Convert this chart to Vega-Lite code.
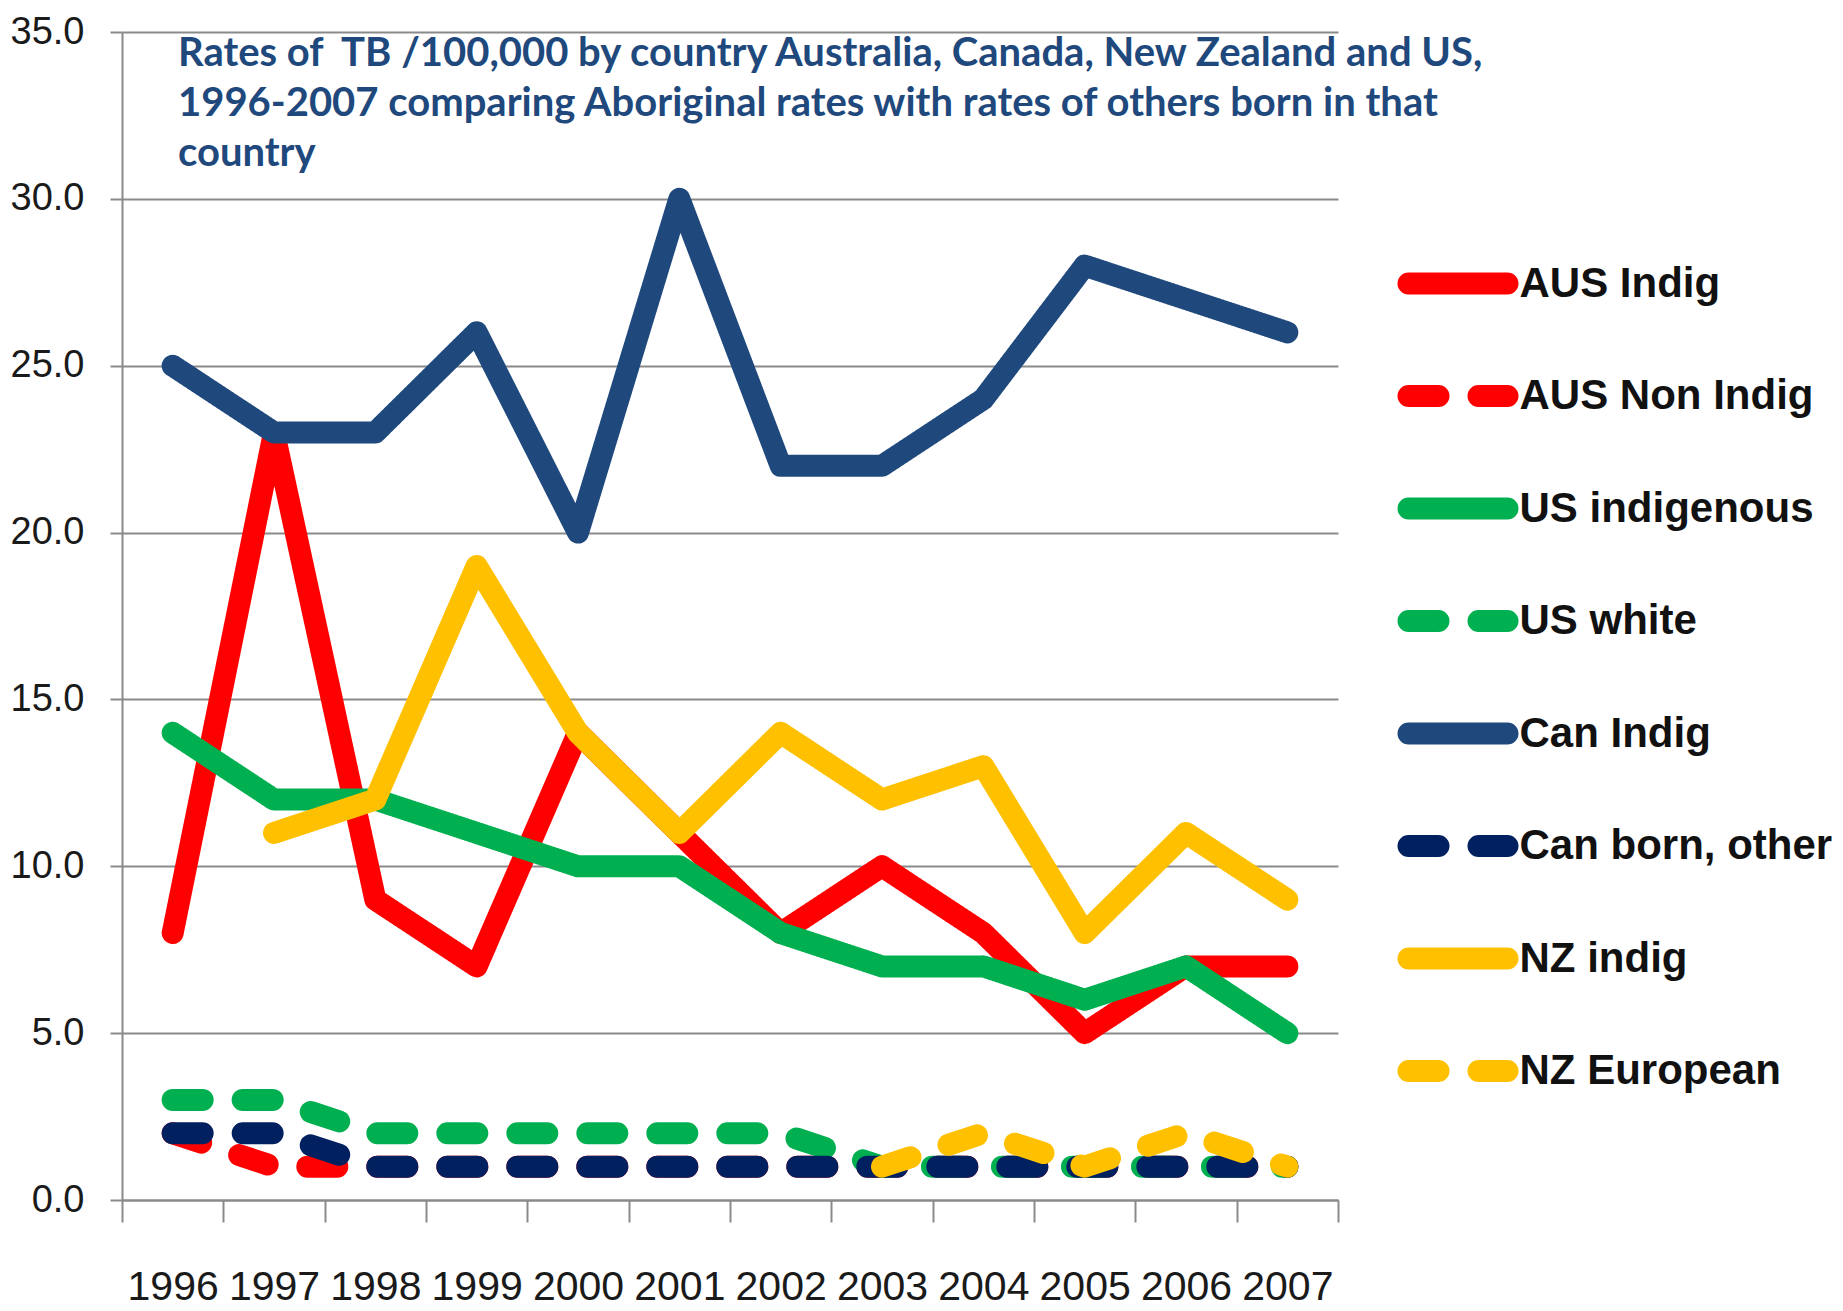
{
  "$schema": "https://vega.github.io/schema/vega-lite/v6.json",
  "width": 1216,
  "height": 1168,
  "autosize": {"type": "none"},
  "padding": {"left": 122, "top": 32, "right": 505, "bottom": 111},
  "background": "white",
  "title": {
    "text": ["Rates of\u00a0 TB /100,000 by country Australia, Canada, New Zealand and US,", "1996-2007 comparing Aboriginal rates with rates of others born in that", "country"],
    "anchor": "start",
    "frame": "group",
    "orient": "top",
    "baseline": "alphabetic",
    "offset": 0,
    "dx": 56,
    "dy": 193,
    "font": "Lato",
    "fontSize": 40,
    "fontWeight": "bold",
    "color": "#1F497D",
    "lineHeight": 50
  },
  "config": {
    "view": {"stroke": null},
    "font": "Liberation Sans, Arial, sans-serif"
  },
  "data": {
    "values": [
      {"series": "AUS Indig", "year": "1996", "rate": 8},
      {"series": "AUS Indig", "year": "1997", "rate": 23},
      {"series": "AUS Indig", "year": "1998", "rate": 9},
      {"series": "AUS Indig", "year": "1999", "rate": 7},
      {"series": "AUS Indig", "year": "2000", "rate": 14},
      {"series": "AUS Indig", "year": "2001", "rate": 11},
      {"series": "AUS Indig", "year": "2002", "rate": 8},
      {"series": "AUS Indig", "year": "2003", "rate": 10},
      {"series": "AUS Indig", "year": "2004", "rate": 8},
      {"series": "AUS Indig", "year": "2005", "rate": 5},
      {"series": "AUS Indig", "year": "2006", "rate": 7},
      {"series": "AUS Indig", "year": "2007", "rate": 7},
      {"series": "AUS Non Indig", "year": "1996", "rate": 2},
      {"series": "AUS Non Indig", "year": "1997", "rate": 1},
      {"series": "AUS Non Indig", "year": "1998", "rate": 1},
      {"series": "AUS Non Indig", "year": "1999", "rate": 1},
      {"series": "AUS Non Indig", "year": "2000", "rate": 1},
      {"series": "AUS Non Indig", "year": "2001", "rate": 1},
      {"series": "AUS Non Indig", "year": "2002", "rate": 1},
      {"series": "AUS Non Indig", "year": "2003", "rate": 1},
      {"series": "AUS Non Indig", "year": "2004", "rate": 1},
      {"series": "AUS Non Indig", "year": "2005", "rate": 1},
      {"series": "AUS Non Indig", "year": "2006", "rate": 1},
      {"series": "AUS Non Indig", "year": "2007", "rate": 1},
      {"series": "US indigenous", "year": "1996", "rate": 14},
      {"series": "US indigenous", "year": "1997", "rate": 12},
      {"series": "US indigenous", "year": "1998", "rate": 12},
      {"series": "US indigenous", "year": "1999", "rate": 11},
      {"series": "US indigenous", "year": "2000", "rate": 10},
      {"series": "US indigenous", "year": "2001", "rate": 10},
      {"series": "US indigenous", "year": "2002", "rate": 8},
      {"series": "US indigenous", "year": "2003", "rate": 7},
      {"series": "US indigenous", "year": "2004", "rate": 7},
      {"series": "US indigenous", "year": "2005", "rate": 6},
      {"series": "US indigenous", "year": "2006", "rate": 7},
      {"series": "US indigenous", "year": "2007", "rate": 5},
      {"series": "US white", "year": "1996", "rate": 3},
      {"series": "US white", "year": "1997", "rate": 3},
      {"series": "US white", "year": "1998", "rate": 2},
      {"series": "US white", "year": "1999", "rate": 2},
      {"series": "US white", "year": "2000", "rate": 2},
      {"series": "US white", "year": "2001", "rate": 2},
      {"series": "US white", "year": "2002", "rate": 2},
      {"series": "US white", "year": "2003", "rate": 1},
      {"series": "US white", "year": "2004", "rate": 1},
      {"series": "US white", "year": "2005", "rate": 1},
      {"series": "US white", "year": "2006", "rate": 1},
      {"series": "US white", "year": "2007", "rate": 1},
      {"series": "Can Indig", "year": "1996", "rate": 25},
      {"series": "Can Indig", "year": "1997", "rate": 23},
      {"series": "Can Indig", "year": "1998", "rate": 23},
      {"series": "Can Indig", "year": "1999", "rate": 26},
      {"series": "Can Indig", "year": "2000", "rate": 20},
      {"series": "Can Indig", "year": "2001", "rate": 30},
      {"series": "Can Indig", "year": "2002", "rate": 22},
      {"series": "Can Indig", "year": "2003", "rate": 22},
      {"series": "Can Indig", "year": "2004", "rate": 24},
      {"series": "Can Indig", "year": "2005", "rate": 28},
      {"series": "Can Indig", "year": "2006", "rate": 27},
      {"series": "Can Indig", "year": "2007", "rate": 26},
      {"series": "Can born, other", "year": "1996", "rate": 2},
      {"series": "Can born, other", "year": "1997", "rate": 2},
      {"series": "Can born, other", "year": "1998", "rate": 1},
      {"series": "Can born, other", "year": "1999", "rate": 1},
      {"series": "Can born, other", "year": "2000", "rate": 1},
      {"series": "Can born, other", "year": "2001", "rate": 1},
      {"series": "Can born, other", "year": "2002", "rate": 1},
      {"series": "Can born, other", "year": "2003", "rate": 1},
      {"series": "Can born, other", "year": "2004", "rate": 1},
      {"series": "Can born, other", "year": "2005", "rate": 1},
      {"series": "Can born, other", "year": "2006", "rate": 1},
      {"series": "Can born, other", "year": "2007", "rate": 1},
      {"series": "NZ indig", "year": "1997", "rate": 11},
      {"series": "NZ indig", "year": "1998", "rate": 12},
      {"series": "NZ indig", "year": "1999", "rate": 19},
      {"series": "NZ indig", "year": "2000", "rate": 14},
      {"series": "NZ indig", "year": "2001", "rate": 11},
      {"series": "NZ indig", "year": "2002", "rate": 14},
      {"series": "NZ indig", "year": "2003", "rate": 12},
      {"series": "NZ indig", "year": "2004", "rate": 13},
      {"series": "NZ indig", "year": "2005", "rate": 8},
      {"series": "NZ indig", "year": "2006", "rate": 11},
      {"series": "NZ indig", "year": "2007", "rate": 9},
      {"series": "NZ European", "year": "2003", "rate": 1},
      {"series": "NZ European", "year": "2004", "rate": 2},
      {"series": "NZ European", "year": "2005", "rate": 1},
      {"series": "NZ European", "year": "2006", "rate": 2},
      {"series": "NZ European", "year": "2007", "rate": 1}
    ]
  },
  "mark": {"type": "line", "strokeWidth": 22, "strokeCap": "round", "strokeJoin": "round"},
  "encoding": {
    "x": {
      "field": "year",
      "type": "ordinal",
      "bandPosition": 0.5,
      "scale": {"type": "band", "paddingInner": 0, "paddingOuter": 0},
      "axis": {
        "title": null,
        "labelAngle": 0,
        "labelFontSize": 41,
        "labelColor": "#1a1a1a",
        "labelPadding": 45,
        "domainColor": "#8a8a8a",
        "domainWidth": 2,
        "tickColor": "#8a8a8a",
        "tickWidth": 2,
        "tickSize": 22,
        "tickBand": "extent",
        "grid": false
      }
    },
    "y": {
      "field": "rate",
      "type": "quantitative",
      "scale": {"domain": [0, 35], "nice": false},
      "axis": {
        "title": null,
        "values": [0, 5, 10, 15, 20, 25, 30, 35],
        "format": ".1f",
        "labelFontSize": 38,
        "labelColor": "#1a1a1a",
        "labelPadding": 26,
        "domainColor": "#8a8a8a",
        "domainWidth": 2,
        "tickColor": "#8a8a8a",
        "tickWidth": 2,
        "tickSize": 12,
        "gridColor": "#8a8a8a",
        "gridWidth": 2,
        "gridOpacity": 1
      }
    },
    "color": {
      "field": "series",
      "type": "nominal",
      "sort": null,
      "scale": {
        "domain": ["AUS Indig", "AUS Non Indig", "US indigenous", "US white", "Can Indig", "Can born, other", "NZ indig", "NZ European"],
        "range": ["#FF0000", "#FF0000", "#00B050", "#00B050", "#1F497D", "#002060", "#FFC000", "#FFC000"]
      },
      "legend": {
        "title": null,
        "orient": "none",
        "legendX": 1275.5,
        "legendY": 191,
        "symbolType": "stroke",
        "symbolSize": 9801,
        "symbolStrokeWidth": 22,
        "labelFontSize": 42,
        "labelFontWeight": "bold",
        "labelColor": "#111111",
        "labelOffset": 1,
        "rowPadding": 7.5,
        "labelLimit": 400,
        "encoding": {"symbols": {"strokeCap": {"value": "round"}}}
      }
    },
    "strokeDash": {
      "field": "series",
      "type": "nominal",
      "sort": null,
      "scale": {
        "domain": ["AUS Indig", "AUS Non Indig", "US indigenous", "US white", "Can Indig", "Can born, other", "NZ indig", "NZ European"],
        "range": [[1, 0], [30, 40], [1, 0], [30, 40], [1, 0], [30, 40], [1, 0], [30, 40]]
      },
      "legend": {
        "title": null,
        "orient": "none",
        "legendX": 1275.5,
        "legendY": 191,
        "symbolType": "stroke",
        "symbolSize": 9801,
        "symbolStrokeWidth": 22,
        "labelFontSize": 42,
        "labelFontWeight": "bold",
        "labelColor": "#111111",
        "labelOffset": 1,
        "rowPadding": 7.5,
        "labelLimit": 400,
        "encoding": {"symbols": {"strokeCap": {"value": "round"}}}
      }
    }
  }
}
